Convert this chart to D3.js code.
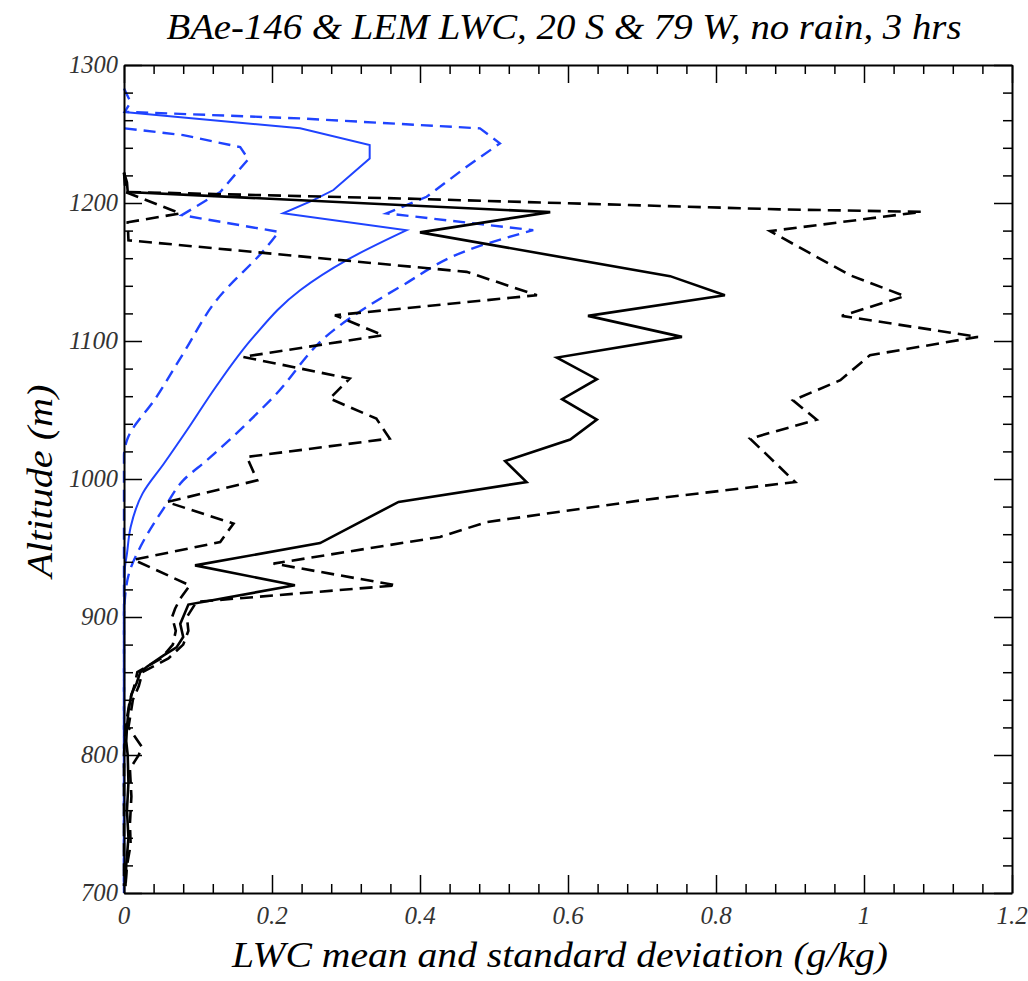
<!DOCTYPE html>
<html>
<head>
<meta charset="utf-8">
<script src="https://cdn.jsdelivr.net/npm/d3@7"></script>
<style>
  body { margin: 0; background: #fff; }
  text { font-family: "Liberation Serif", "DejaVu Serif", serif; font-style: italic; }
</style>
</head>
<body>
<div id="chart"></div>
<script>
// Observed (BAe-146) LWC profiles, [lwc g/kg, altitude m]
var obsMean = [
  [0, 1222], [0.004, 1215], [0.005, 1208], [0.576, 1193.4], [0.40, 1178.7], [0.738, 1147],
  [0.812, 1133.2], [0.627, 1118.2], [0.754, 1103], [0.585, 1088], [0.639, 1072.3],
  [0.592, 1057.8], [0.639, 1043], [0.603, 1028.6], [0.515, 1013], [0.544, 997.8],
  [0.371, 983.4], [0.265, 953.6], [0.096, 937.4], [0.231, 923], [0.087, 909],
  [0.076, 895], [0.080, 885.5], [0.071, 878], [0.053, 872], [0.031, 864], [0.022, 860],
  [0.017, 852], [0.010, 844], [0.006, 832], [0.004, 820], [0.003, 810], [0.005, 800],
  [0.006, 780], [0.004, 760], [0.006, 740], [0.003, 720], [0.002, 705]
];
var obsPlus = [
  [0, 1222], [0.005, 1208], [0.373, 1203.3], [0.886, 1195.4], [1.078, 1193.6],
  [0.873, 1179.6], [0.981, 1147.7], [1.055, 1132.5], [0.970, 1118.2], [1.154, 1103],
  [1.008, 1089.7], [0.968, 1071.6], [0.904, 1057], [0.936, 1043], [0.846, 1029.3],
  [0.907, 997.8], [0.705, 985], [0.490, 968.8], [0.427, 958], [0.202, 938.7],
  [0.368, 922.9], [0.098, 911], [0.085, 900], [0.087, 890], [0.080, 880], [0.060, 870],
  [0.025, 860], [0.020, 850], [0.012, 840], [0.006, 820], [0.024, 806], [0.020, 800],
  [0.008, 790], [0.010, 770], [0.008, 750], [0.009, 735], [0.004, 720], [0.002, 705]
];
var obsMinus = [
  [0, 1222], [0.002, 1208], [0.076, 1192.5], [0.005, 1186], [0.006, 1173],
  [0.463, 1150.1], [0.558, 1133.2], [0.285, 1118.7], [0.350, 1104.2], [0.161, 1088.5],
  [0.305, 1072.8], [0.278, 1058.3], [0.341, 1043.8], [0.359, 1029.3], [0.166, 1016],
  [0.180, 999], [0.058, 983.3], [0.148, 967.7], [0.130, 954.3], [0.013, 941.5],
  [0.089, 922.9], [0.076, 913.3], [0.069, 906], [0.065, 900], [0.070, 890], [0.066, 880],
  [0.050, 870], [0.018, 860], [0.014, 850], [0.008, 840], [0.002, 820], [0, 800], [0, 705]
];

// LEM model LWC profiles (smooth below the index given in lemSmoothFrom)
var lemMean = [
  [0, 1265.9], [0.238, 1254.1], [0.332, 1242], [0.332, 1232.3], [0.283, 1209.4],
  [0.256, 1202.1], [0.215, 1192.5], [0.382, 1180.3], [0.301, 1158.6], [0.238, 1136.8],
  [0.175, 1103], [0.124, 1066.7], [0.085, 1035.3], [0.054, 1011.2], [0.025, 989.4],
  [0.009, 965.2], [0.004, 945.9], [0.001, 933.8], [0, 900], [0, 700]
];
var lemPlus = [
  [0, 1283], [0.009, 1273], [0.001, 1266.1], [0.238, 1261.3], [0.481, 1254.1],
  [0.508, 1243.2], [0.463, 1226.3], [0.409, 1204.5], [0.355, 1192.5], [0.553, 1180.3],
  [0.477, 1168.2], [0.373, 1139.2], [0.283, 1107.7], [0.202, 1059.5], [0.112, 1013.6],
  [0.080, 999], [0.058, 982.2], [0.022, 950.7], [0.008, 933.8], [0.001, 912], [0, 900], [0, 700]
];
var lemMinus = [
  [0.001, 1254.1], [0.080, 1249.2], [0.157, 1240.5], [0.168, 1231.8], [0.130, 1207.9],
  [0.078, 1191.2], [0.209, 1179.1], [0.193, 1168.2], [0.125, 1129.6], [0.080, 1090.9],
  [0.044, 1059.5], [0.004, 1028.1], [0, 1017], [0, 700]
];
var lemSmoothFrom = {mean: 7, plus: 9, minus: 6};

var xTicks = [0, 0.2, 0.4, 0.6, 0.8, 1, 1.2];
var yTicks = [700, 800, 900, 1000, 1100, 1200, 1300];

var W = 1028, H = 981;
var margin = {left: 124, right: 16, top: 65, bottom: 88};
var width = W - margin.left - margin.right,
    height = H - margin.top - margin.bottom;

var svg = d3.select('#chart')
    .append('svg')
        .attr('width', W)
        .attr('height', H)
        .style('background', '#fff');

var g = svg.append('g')
    .attr('transform', 'translate(' + margin.left + ',' + margin.top + ')');

var x = d3.scaleLinear().domain([0, 1.2]).range([0, width]);
var y = d3.scaleLinear().domain([700, 1300]).range([height, 0]);

var line = d3.line()
    .x(function(d){ return x(d[0]); })
    .y(function(d){ return y(d[1]); });

var smoothLine = d3.line()
    .x(function(d){ return x(d[0]); })
    .y(function(d){ return y(d[1]); })
    .curve(d3.curveMonotoneY);

// sharp corners at the top, smooth model curve below the last kink
function pathFor(s){
    if (s.smooth == null) return line(s.data);
    var k = s.smooth;
    var top = line(s.data.slice(0, k + 1));
    var low = smoothLine(s.data.slice(k));
    return top + 'L' + low.slice(1);
}

var blue = '#1f43ff';

var series = [
  {data: lemMinus, color: blue, w: 2.4, dash: '12,7', smooth: lemSmoothFrom.minus},
  {data: lemPlus, color: blue, w: 2.4, dash: '12,7', smooth: lemSmoothFrom.plus},
  {data: lemMean, color: blue, w: 2, dash: null, smooth: lemSmoothFrom.mean},
  {data: obsMinus, color: '#000', w: 2.6, dash: '13,7'},
  {data: obsPlus, color: '#000', w: 2.6, dash: '13,7'},
  {data: obsMean, color: '#000', w: 2.6, dash: null}
];

g.selectAll('path.profile')
    .data(series)
    .enter().append('path')
        .attr('class', 'profile')
        .attr('d', pathFor)
        .attr('fill', 'none')
        .attr('stroke', function(d){ return d.color; })
        .attr('stroke-width', function(d){ return d.w; })
        .attr('stroke-dasharray', function(d){ return d.dash; });

// axes: inward ticks on all four sides
var xMinor = d3.range(0, 1.2001, 0.04);
var yMinor = d3.range(700, 1300.1, 20);

function isMajorX(v){ return Math.abs(v / 0.2 - Math.round(v / 0.2)) < 1e-6; }
function isMajorY(v){ return Math.abs(v % 100) < 1e-6; }

g.append('g')
    .attr('class', 'x-axis')
    .attr('transform', 'translate(0,' + height + ')')
    .call(d3.axisBottom(x).tickValues(xMinor).tickSizeOuter(0).tickFormat(''))
    .call(function(s){ s.selectAll('.tick line').attr('y2', function(d){ return isMajorX(d) ? -18 : -9; }); });

g.append('g')
    .attr('class', 'x-axis-top')
    .call(d3.axisTop(x).tickValues(xMinor).tickSizeOuter(0).tickFormat(''))
    .call(function(s){ s.selectAll('.tick line').attr('y2', function(d){ return isMajorX(d) ? 18 : 9; }); });

g.append('g')
    .attr('class', 'y-axis')
    .call(d3.axisLeft(y).tickValues(yMinor).tickSizeOuter(0).tickFormat(''))
    .call(function(s){ s.selectAll('.tick line').attr('x2', function(d){ return isMajorY(d) ? 18 : 9; }); });

g.append('g')
    .attr('class', 'y-axis-right')
    .attr('transform', 'translate(' + width + ',0)')
    .call(d3.axisRight(y).tickValues(yMinor).tickSizeOuter(0).tickFormat(''))
    .call(function(s){ s.selectAll('.tick line').attr('x2', function(d){ return isMajorY(d) ? -18 : -9; }); });

g.selectAll('.domain').attr('stroke', '#000').attr('stroke-width', 2);
g.selectAll('.tick line').attr('stroke', '#000').attr('stroke-width', 1.5);

// tick labels
g.selectAll('text.xlab')
    .data(xTicks)
    .enter().append('text')
        .attr('class', 'xlab')
        .attr('x', function(d){ return x(d); })
        .attr('y', height + 31)
        .attr('text-anchor', 'middle')
        .attr('font-size', '25px')
        .attr('fill', '#333')
        .text(function(d){ return d; });

g.selectAll('text.ylab')
    .data(yTicks)
    .enter().append('text')
        .attr('class', 'ylab')
        .attr('x', -6)
        .attr('y', function(d){ return y(d) + 8; })
        .attr('text-anchor', 'end')
        .attr('font-size', '25px')
        .attr('fill', '#333')
        .attr('textLength', function(d){ return d >= 1000 ? 49 : 37; })
        .attr('lengthAdjust', 'spacingAndGlyphs')
        .text(function(d){ return d; });

// title and axis titles
svg.append('text')
    .attr('x', 564)
    .attr('y', 39)
    .attr('text-anchor', 'middle')
    .attr('font-size', '36px')
    .attr('textLength', 795)
    .attr('lengthAdjust', 'spacingAndGlyphs')
    .text('BAe-146 & LEM LWC, 20 S & 79 W, no rain, 3 hrs');

svg.append('text')
    .attr('x', 560)
    .attr('y', 967)
    .attr('text-anchor', 'middle')
    .attr('font-size', '36px')
    .attr('textLength', 656)
    .attr('lengthAdjust', 'spacingAndGlyphs')
    .text('LWC mean and standard deviation (g/kg)');

svg.append('text')
    .attr('transform', 'translate(52,481) rotate(-90)')
    .attr('text-anchor', 'middle')
    .attr('font-size', '36px')
    .attr('textLength', 193)
    .attr('lengthAdjust', 'spacingAndGlyphs')
    .text('Altitude (m)');
</script>
</body>
</html>
